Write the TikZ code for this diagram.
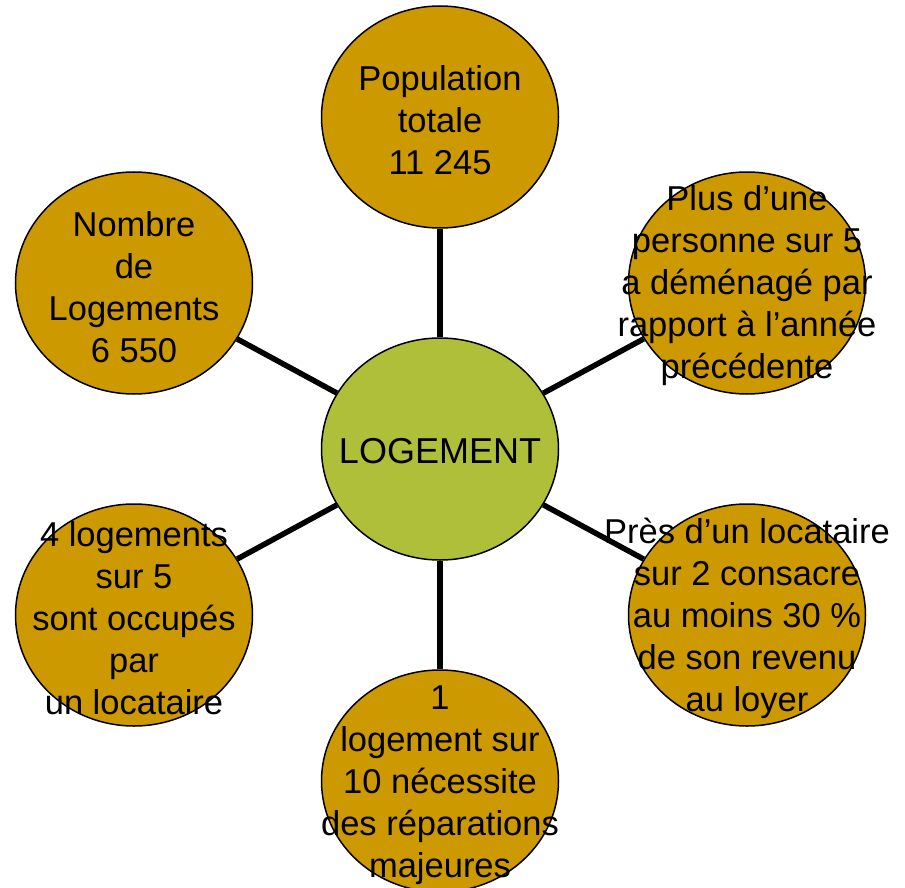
\documentclass[tikz,border=0pt]{standalone}
\usepackage{fontspec}
\setmainfont{Liberation Sans}
\usetikzlibrary{shapes.geometric}

\definecolor{gold}{HTML}{CC9900}
\definecolor{lime}{HTML}{B0BF3A}

\tikzset{
    bubble/.style={ellipse, draw=black, line width=1.5pt, fill=gold,
        minimum width=237pt, minimum height=222pt, inner sep=0pt},
    hub/.style={bubble, fill=lime},
    txt/.style={align=center, inner sep=0pt, font=\fontsize{34.5}{42}\selectfont},
    spoke/.style={line width=5.5pt}
}

\begin{document}
\begin{tikzpicture}[x=1pt, y=-1pt]
    \useasboundingbox (0,0) rectangle (905,888);

    % circles
    \node[hub] (log) at (440,449) {};
    \node[bubble] (pop) at (440,117) {};
    \node[bubble] (dem) at (747,283) {};
    \node[bubble] (loy) at (747,615) {};
    \node[bubble] (rep) at (440,781) {};
    \node[bubble] (loc) at (134,615) {};
    \node[bubble] (nb)  at (134,283) {};

    % spokes
    \foreach \n in {pop,dem,loy,rep,loc,nb} {
        \draw[spoke] (log) -- (\n);
    }

    % texts
    \node[txt, font=\fontsize{36}{42}\selectfont] (log-t) at (440,451) {LOGEMENT};
    \node[txt] (pop-t) at (440,120) {Population\\totale\\11 245};
    \node[txt] (dem-t) at (747,286) {Plus d’une\\personne sur 5\\a déménagé par\\rapport à l’année\\précédente};
    \node[txt] (loy-t) at (747,618) {Près d’un locataire\\sur 2 consacre\\au moins 30 \%\\de son revenu\\au loyer};
    \node[txt] (rep-t) at (440,785) {1\\logement sur\\10 nécessite\\des réparations\\majeures};
    \node[txt] (loc-t) at (134,618) {4 logements\\sur 5\\sont occupés\\par\\un locataire};
    \node[txt] (nb-t)  at (134,287) {Nombre\\de\\Logements\\6 550};
\end{tikzpicture}
\end{document}
